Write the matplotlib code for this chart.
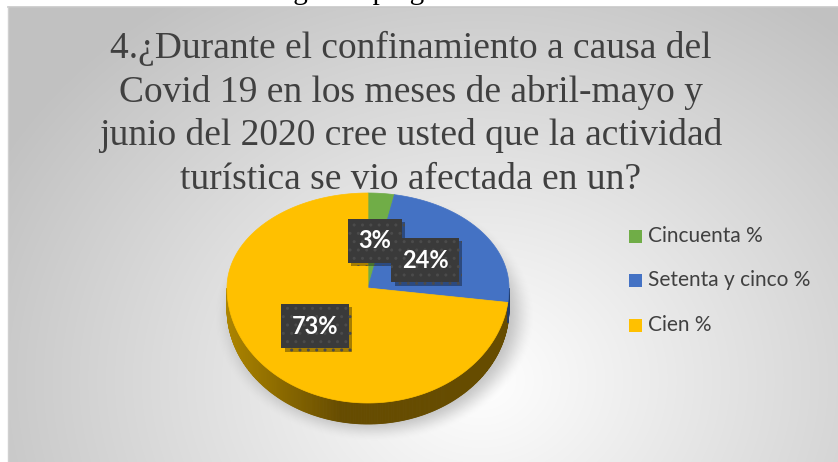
import numpy as np
import matplotlib.pyplot as plt
import matplotlib.patheffects as pe
from matplotlib.patches import Polygon, Rectangle
from matplotlib.colors import to_rgb

W, H = 838, 462

title_lines = [
    '4.¿Durante el confinamiento a causa del',
    'Covid 19 en los meses de abril-mayo y',
    'junio del 2020 cree usted que la actividad',
    'turística se vio afectada en un?',
]
categories = ['Cincuenta %', 'Setenta y cinco %', 'Cien %']
values = [3, 24, 73]
labels = ['3%', '24%', '73%']
colors = ['#70ad47', '#4472c4', '#ffc000']
side_colors = [('#4f7f31', '#36571f'), ('#31599c', '#213c69'), ('#ad8500', '#664c00')]

# pie geometry (pixels)
cx, cy = 368, 288
rx, ry_top, ry_bot = 141, 95, 115
depth = 21


def to_px(theta, r=1.0):
    t = np.radians(theta)
    u, v = r * np.cos(t), r * np.sin(t)
    y = np.where(v >= 0, cy - ry_top * v, cy - ry_bot * v)
    return cx + rx * u, y


def main():
    fig = plt.figure(figsize=(W / 100, H / 100), dpi=100)
    ax = fig.add_axes([0, 0, 1, 1])
    ax.set_xlim(0, W)
    ax.set_ylim(H, 0)
    ax.axis('off')

    # background radial gradient
    xx, yy = np.meshgrid(np.arange(8, W), np.arange(7, H))
    r = np.sqrt(((xx - 480) / 500.0) ** 2 + ((yy - 380) / 420.0) ** 2)
    g = np.clip(1.0 - 0.22 * r, 0.76, 1.0)
    ax.imshow(np.dstack([g, g, g]), extent=[8, W, H, 7], zorder=0, interpolation='bilinear')
    ax.plot([8, W], [7, 7], color='#c8c8c8', lw=1.2, zorder=1)
    ax.plot([8, 8], [7, H], color='#d0d0d0', lw=1.0, zorder=1)

    # cut-off caption above chart
    ax.text(269, -1, 'según la pregunta', family='Liberation Serif', fontsize=21,
            color='black', ha='left', va='baseline', zorder=1)

    # soft shadow under the pie
    sx, sy = np.meshgrid(np.arange(0, W), np.arange(0, H))
    sr = np.sqrt(((sx - 374) / 146.0) ** 2 + ((sy - 316) / 114.0) ** 2)
    a = np.clip((1.10 - sr) / 0.22, 0, 1)
    a = a * a * (3 - 2 * a) * 0.45
    shadow = np.zeros((H, W, 4))
    shadow[..., :3] = 0.5
    shadow[..., 3] = a
    ax.imshow(shadow, extent=[0, W, H, 0], zorder=2, interpolation='bilinear')

    fracs = np.array(values, dtype=float) / sum(values)
    cum = np.concatenate([[0], np.cumsum(fracs)])
    edges = 90 - 360 * cum

    # side of the 3D pie (front half)
    thetas = np.linspace(180, 360, 361)
    for t0, t1 in zip(thetas[:-1], thetas[1:]):
        tm = 0.5 * (t0 + t1)
        off = ((90 - tm) % 360) / 360.0
        i = min(np.searchsorted(cum, off) - 1, len(values) - 1)
        x0, y0 = to_px(t0)
        x1, y1 = to_px(t1)
        k = np.clip((0.5 * (x0 + x1) - (cx - rx)) / 115.0, 0, 1)
        c0, c1 = np.array(to_rgb(side_colors[i][0])), np.array(to_rgb(side_colors[i][1]))
        col = c0 + (c1 - c0) * k
        ax.add_patch(Polygon([(x0, y0), (x1, y1), (x1, y1 + depth), (x0, y0 + depth)],
                             closed=True, fc=col, ec=col, lw=0.6, zorder=3))

    # top faces
    for i in range(len(values)):
        ts = np.linspace(edges[i], edges[i + 1], 200)
        px, py = to_px(ts)
        pts = [(cx, cy)] + list(zip(px, py))
        ax.add_patch(Polygon(pts, closed=True, fc=colors[i], ec=colors[i], lw=0.5, zorder=4))

    # data labels
    for i, lab in enumerate(labels):
        mid = 0.5 * (edges[i] + edges[i + 1])
        lx, ly = to_px(mid, 0.5)
        t = ax.text(float(lx), float(ly), lab, family='Lato', fontweight='bold', fontsize=17,
                    color='white', ha='center', va='center', zorder=6 + i,
                    bbox=dict(boxstyle='square,pad=0.45', fc='#3a3a3a', ec='#4b4b4b',
                              lw=0, hatch='..'))
        t.get_bbox_patch().set_path_effects(
            [pe.SimplePatchShadow(offset=(2.5, -2.5), shadow_rgbFace='black', alpha=0.35),
             pe.Normal()])

    # title
    for i, line in enumerate(title_lines):
        ax.text(411, 58 + i * 43.7, line, family='Liberation Serif', fontsize=27,
                color='#404040', ha='center', va='baseline', zorder=10)

    # legend
    for i, (cat, col) in enumerate(zip(categories, colors)):
        ly = 236 + i * 44.5
        ax.add_patch(Rectangle((629, ly - 6.5), 13, 13, fc=col, ec='none', zorder=5))
        ax.text(648, ly, cat, family='Lato', fontsize=15, color='#404040',
                ha='left', va='center', zorder=5)

    fig.savefig('out.png', dpi=100)


if __name__ == '__main__':
    main()
